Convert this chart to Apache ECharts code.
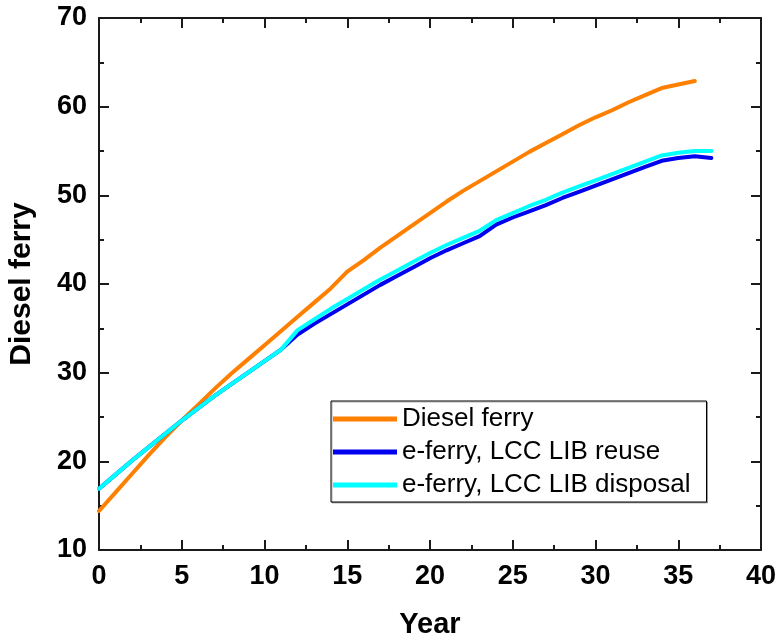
<!DOCTYPE html>
<html>
<head>
<meta charset="utf-8">
<title>Diesel ferry vs e-ferry</title>
<script src="https://cdn.jsdelivr.net/npm/echarts@6/dist/echarts.min.js"></script>
<style>
  html, body { margin: 0; padding: 0; background: #fff; }
  #chart { width: 777px; height: 637px; }
</style>
</head>
<body>
<div id="chart"></div>
<script>
// Cumulative cost by year for each ferry option
const dieselYears = [0,1,2,3,4,5,6,7,8,9,10,11,12,13,14,15,16,17,18,19,20,21,22,23,24,25,26,27,28,29,30,31,32,33,34,35,36];
const dieselFerry = [14.4,16.5,18.6,20.7,22.7,24.6,26.4,28.2,29.9,31.5,33.1,34.7,36.3,37.9,39.5,41.4,42.7,44.1,45.4,46.7,48.0,49.3,50.5,51.6,52.7,53.8,54.9,55.9,56.9,57.9,58.8,59.6,60.5,61.3,62.1,62.5,62.9];

const eferryYears = [0,1,2,3,4,5,6,7,8,9,10,11,12,13,14,15,16,17,18,19,20,21,22,23,24,25,26,27,28,29,30,31,32,33,34,35,36,37];
const eferryReuse = [16.9,18.5,20.1,21.6,23.1,24.6,26.0,27.4,28.7,30.0,31.3,32.6,34.3,35.5,36.6,37.7,38.8,39.9,40.9,41.9,42.9,43.8,44.6,45.4,46.7,47.5,48.2,48.9,49.7,50.4,51.1,51.8,52.5,53.2,53.9,54.2,54.4,54.2];
const eferryDisposal = [16.9,18.5,20.1,21.6,23.1,24.6,26.0,27.4,28.7,30.0,31.3,32.6,34.8,36.0,37.2,38.3,39.4,40.5,41.5,42.5,43.5,44.4,45.2,46.0,47.2,48.0,48.8,49.5,50.3,51.0,51.7,52.4,53.1,53.8,54.5,54.8,55.0,55.0];

const seriesNames = ['Diesel ferry', 'e-ferry, LCC LIB reuse', 'e-ferry, LCC LIB disposal'];
const seriesColors = ['#FF7F00', '#0000F0', '#00FFFF'];

const xTicks = { min: 0, max: 40, interval: 5 };
const yTicks = { min: 10, max: 70, interval: 10 };

const FONT = '"Liberation Sans", Arial, Helvetica, sans-serif';
const AXIS_COLOR = '#1a1a1a';

function pairs(xs, ys) { return xs.map((x, i) => [x, ys[i]]); }

function axisCommon(showLabels, margin) {
  return {
    axisLine: { show: true, onZero: false, lineStyle: { color: AXIS_COLOR, width: 2 } },
    axisTick: { show: true, inside: true, length: 10, lineStyle: { color: AXIS_COLOR, width: 2 } },
    minorTick: { show: true, splitNumber: 2, length: 5, lineStyle: { color: AXIS_COLOR, width: 2 } },
    splitLine: { show: false },
    axisLabel: {
      show: showLabels, margin: margin, color: '#000',
      fontFamily: FONT, fontWeight: 'bold', fontSize: 27
    }
  };
}

const chart = echarts.init(document.getElementById('chart'), null, { renderer: 'canvas' });

chart.setOption({
  animation: false,
  backgroundColor: '#fff',
  grid: { left: 99, right: 16, top: 18, bottom: 87, containLabel: false, outerBoundsMode: 'none' },
  xAxis: [
    Object.assign({
      type: 'value', position: 'bottom',
      min: xTicks.min, max: xTicks.max, interval: xTicks.interval,
      name: 'Year', nameLocation: 'middle', nameGap: 60,
      nameTextStyle: { fontFamily: FONT, fontWeight: 'bold', fontSize: 29, color: '#000' }
    }, axisCommon(true, 13)),
    Object.assign({
      type: 'value', position: 'top',
      min: xTicks.min, max: xTicks.max, interval: xTicks.interval
    }, axisCommon(false, 13))
  ],
  yAxis: [
    Object.assign({
      type: 'value', position: 'left',
      min: yTicks.min, max: yTicks.max, interval: yTicks.interval,
      name: 'Diesel ferry', nameLocation: 'middle', nameGap: 62, nameRotate: 90,
      nameTextStyle: { fontFamily: FONT, fontWeight: 'bold', fontSize: 30, color: '#000' }
    }, axisCommon(true, 12)),
    Object.assign({
      type: 'value', position: 'right',
      min: yTicks.min, max: yTicks.max, interval: yTicks.interval
    }, axisCommon(false, 12))
  ],
  legend: {
    orient: 'vertical',
    left: 331, top: 401,
    padding: [5, 16, 4, 2],
    itemGap: 7,
    itemWidth: 64, itemHeight: 5,
    icon: 'rect',
    backgroundColor: '#fff',
    borderColor: '#000', borderWidth: 1,
    shadowColor: 'rgba(0,0,0,0.3)', shadowOffsetX: 1, shadowOffsetY: 1, shadowBlur: 0,
    borderRadius: 0,
    textStyle: { fontFamily: FONT, fontSize: 26, color: '#000', padding: [0, 0, 0, 0] },
    data: seriesNames
  },
  series: [
    {
      name: seriesNames[0], type: 'line', xAxisIndex: 0, yAxisIndex: 0,
      data: pairs(dieselYears, dieselFerry),
      symbol: 'none', lineStyle: { color: seriesColors[0], width: 4, cap: 'round' },
      itemStyle: { color: seriesColors[0] }
    },
    {
      name: seriesNames[1], type: 'line', xAxisIndex: 0, yAxisIndex: 0,
      data: pairs(eferryYears, eferryReuse),
      symbol: 'none', lineStyle: { color: seriesColors[1], width: 4, cap: 'round' },
      itemStyle: { color: seriesColors[1] }
    },
    {
      name: seriesNames[2], type: 'line', xAxisIndex: 0, yAxisIndex: 0,
      data: pairs(eferryYears, eferryDisposal),
      symbol: 'none', lineStyle: { color: seriesColors[2], width: 4, cap: 'round' },
      itemStyle: { color: seriesColors[2] }
    }
  ]
});
</script>
</body>
</html>
